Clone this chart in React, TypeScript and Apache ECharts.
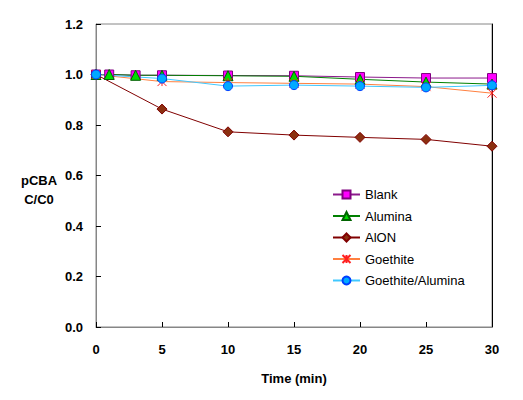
import React, { useEffect, useRef } from "react";
import * as echarts from "echarts";

const blankTimes = [0, 1, 3, 5, 10, 15, 20, 25, 30];
const blankValues = [1.0, 1.0, 0.997, 0.997, 0.996, 0.995, 0.99, 0.986, 0.986];

const aluminaTimes = [0, 1, 3, 5, 10, 15, 20, 25, 30];
const aluminaValues = [1.0, 1.0, 0.997, 0.997, 0.995, 0.993, 0.981, 0.97, 0.962];

const alonTimes = [0, 5, 10, 15, 20, 25, 30];
const alonValues = [1.0, 0.863, 0.773, 0.76, 0.751, 0.743, 0.716];

const goethiteTimes = [0, 5, 10, 15, 20, 25, 30];
const goethiteValues = [1.0, 0.972, 0.968, 0.965, 0.962, 0.952, 0.926];

const gaTimes = [0, 5, 10, 15, 20, 25, 30];
const gaValues = [1.0, 0.984, 0.954, 0.958, 0.954, 0.949, 0.957];

const seriesNames = ["Blank", "Alumina", "AlON", "Goethite", "Goethite/Alumina"];
const yTitleLines = ["pCBA", "C/C0"];
const xTitle = "Time (min)";

const FONT = 'Arial, "Liberation Sans", sans-serif';
const GRAY = "#868686";

const pairs = (t: number[], v: number[]) => t.map((x, i) => [x, v[i]]);

export default function App() {
  const ref = useRef<HTMLDivElement>(null);
  useEffect(() => {
    if (!ref.current) return;
    const chart = echarts.init(ref.current, undefined, { renderer: "svg" });
    const asterisk = "path://M0,0L10,10M10,0L0,10M5,0L5,10";
    chart.setOption({
      animation: false,
      backgroundColor: "#ffffff",
      textStyle: { fontFamily: FONT },
      grid: {
        left: 96,
        top: 24,
        right: 31,
        bottom: 73,
        show: true,
        borderColor: GRAY,
        borderWidth: 1,
      },
      legend: {
        orient: "vertical",
        left: 327,
        top: 183,
        itemWidth: 27,
        itemHeight: 10,
        itemGap: 8.5,
        data: seriesNames,
        textStyle: { fontFamily: FONT, fontSize: 13, color: "#000" },
      },
      xAxis: {
        type: "value",
        min: 0,
        max: 30,
        interval: 5,
        name: xTitle,
        nameLocation: "middle",
        nameGap: 45,
        nameTextStyle: { fontFamily: FONT, fontSize: 13, fontWeight: "bold", color: "#000" },
        axisLine: { lineStyle: { color: GRAY, width: 1 } },
        axisTick: { inside: true, length: 5, lineStyle: { color: "#000" } },
        axisLabel: { fontFamily: FONT, fontSize: 13, fontWeight: "bold", color: "#000", margin: 16 },
        splitLine: { show: false },
      },
      yAxis: [
        {
          type: "value",
          min: 0,
          max: 1.2,
          interval: 0.2,
          axisLine: { show: true, lineStyle: { color: GRAY, width: 1 } },
          axisTick: { show: true, inside: true, length: 5, lineStyle: { color: "#000" } },
          axisLabel: {
            fontFamily: FONT,
            fontSize: 13,
            fontWeight: "bold",
            color: "#000",
            margin: 13,
            formatter: (v: number) => v.toFixed(1),
          },
          splitLine: { show: false },
        },
        {
          type: "value",
          position: "right",
          min: 0,
          max: 1.2,
          interval: 0.2,
          axisLine: { show: true, lineStyle: { color: "#000", width: 1 } },
          axisTick: { show: false },
          axisLabel: { show: false },
          splitLine: { show: false },
        },
      ],
      graphic: yTitleLines.map((t, i) => ({
        type: "text",
        x: 39,
        y: 180 + i * 19,
        style: {
          text: t,
          fontFamily: FONT,
          fontSize: 13,
          fontWeight: "bold",
          fill: "#000",
          align: "center",
          verticalAlign: "middle",
        },
      })),
      series: [
        {
          name: "Blank",
          type: "line",
          data: pairs(blankTimes, blankValues),
          symbol: "rect",
          symbolSize: 9,
          lineStyle: { color: "#8b1a8b", width: 1 },
          itemStyle: { color: "#ff00ff", borderColor: "#800080", borderWidth: 1 },
        },
        {
          name: "Alumina",
          type: "line",
          data: pairs(aluminaTimes, aluminaValues),
          symbol: "triangle",
          symbolSize: 10,
          lineStyle: { color: "#008000", width: 1 },
          itemStyle: { color: "#00dd00", borderColor: "#006400", borderWidth: 1 },
        },
        {
          name: "AlON",
          type: "line",
          data: pairs(alonTimes, alonValues),
          symbol: "diamond",
          symbolSize: 10,
          lineStyle: { color: "#800000", width: 1 },
          itemStyle: { color: "#8b3010", borderColor: "#800000", borderWidth: 1 },
        },
        {
          name: "Goethite",
          type: "line",
          data: pairs(goethiteTimes, goethiteValues),
          symbol: asterisk,
          symbolSize: 9,
          lineStyle: { color: "#ff8040", width: 1 },
          itemStyle: { color: "#ff2020", borderColor: "#ff2020", borderWidth: 1 },
        },
        {
          name: "Goethite/Alumina",
          type: "line",
          data: pairs(gaTimes, gaValues),
          symbol: "circle",
          symbolSize: 9,
          lineStyle: { color: "#40c8ff", width: 1 },
          itemStyle: { color: "#00aaff", borderColor: "#0040ff", borderWidth: 1 },
        },
      ],
    });
    return () => chart.dispose();
  }, []);
  return (
    <div
      ref={ref}
      style={{ position: "fixed", left: 0, top: 0, width: 523, height: 400, background: "#fff" }}
    />
  );
}
